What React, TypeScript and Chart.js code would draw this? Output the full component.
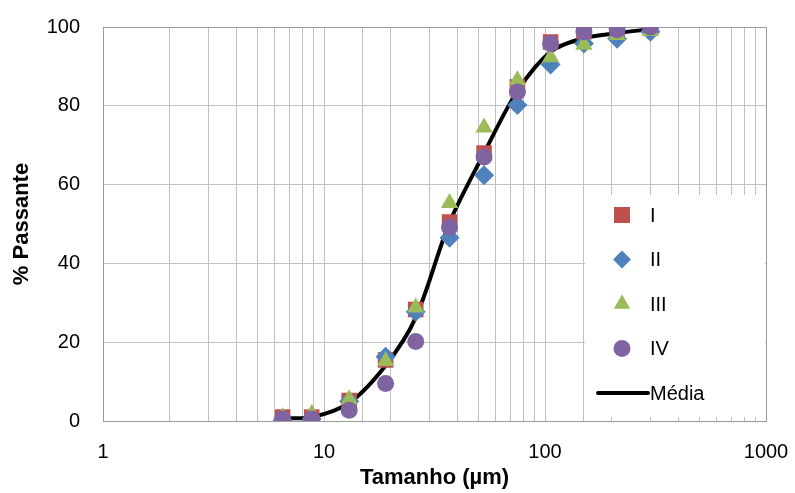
import React, { useEffect, useRef } from "react";
import { Chart, registerables } from "chart.js";

Chart.register(...registerables);

// Particle size (µm)
const sizes = [6.5, 8.8, 13, 19, 26, 37, 53, 75, 106, 150, 212, 300];
// % passing for each sample
const serieI = [1.0, 1.0, 5.2, 15.5, 28.3, 50.5, 68.0, 84.8, 96.2, 98.8, 99.5, 100];
const serieII = [0.2, 0.5, 5.0, 16.3, 27.7, 46.5, 62.4, 80.2, 90.5, 95.8, 97.0, 98.8];
const serieIII = [1.0, 1.8, 5.5, 15.2, 28.8, 55.3, 74.5, 86.5, 92.3, 95.5, 98.0, 99.0];
const serieIV = [0.5, 0.5, 2.7, 9.5, 20.2, 49.2, 67.0, 83.5, 95.8, 98.8, 99.3, 100];
const media = [0.68, 0.95, 4.6, 14.1, 26.25, 50.4, 68.0, 83.75, 93.7, 97.2, 98.45, 99.45];

const seriesLabels = ["I", "II", "III", "IV", "Média"];
const xTickLabels = [1, 10, 100, 1000];
const yMin = 0;
const yMax = 100;
const yStep = 20;

const FONT = "'Liberation Sans', Arial, sans-serif";
const COLORS = ["#C0504D", "#4F81BD", "#9BBB59", "#8064A2", "#000000"];

function pts(ys: number[]) {
  return sizes.map((x, i) => ({ x, y: ys[i] }));
}

function drawMarker(ctx: CanvasRenderingContext2D, style: string, cx: number, cy: number, color: string) {
  ctx.save();
  ctx.fillStyle = color;
  ctx.beginPath();
  if (style === "rect") {
    const s = 8;
    ctx.rect(cx - s, cy - s, 2 * s, 2 * s);
  } else if (style === "rectRot") {
    const r = 9;
    ctx.moveTo(cx, cy - r);
    ctx.lineTo(cx + r, cy);
    ctx.lineTo(cx, cy + r);
    ctx.lineTo(cx - r, cy);
    ctx.closePath();
  } else if (style === "triangle") {
    const r = 9.5;
    ctx.moveTo(cx, cy - r);
    ctx.lineTo(cx + r * 0.866, cy + r * 0.5);
    ctx.lineTo(cx - r * 0.866, cy + r * 0.5);
    ctx.closePath();
  } else {
    ctx.arc(cx, cy, 8.5, 0, Math.PI * 2);
  }
  ctx.fill();
  ctx.restore();
}

const plotBorderPlugin = {
  id: "plotBorder",
  beforeDatasetsDraw(chart: any) {
    const { ctx, chartArea } = chart;
    ctx.save();
    ctx.strokeStyle = "#9a9a9a";
    ctx.lineWidth = 1;
    ctx.strokeRect(
      Math.round(chartArea.left) + 0.5,
      Math.round(chartArea.top) + 0.5,
      Math.round(chartArea.right - chartArea.left),
      Math.round(chartArea.bottom - chartArea.top)
    );
    ctx.restore();
  },
};

const legendBoxPlugin = {
  id: "legendBox",
  afterDatasetsDraw(chart: any) {
    const { ctx, chartArea } = chart;
    const right = chartArea.right - 1;
    const left = chartArea.right - 181;
    const top = chartArea.top + 168;
    const bottom = chartArea.bottom - 4;
    ctx.save();
    ctx.fillStyle = "#ffffff";
    ctx.fillRect(left, top, right - left, bottom - top);
    const styles = ["rect", "rectRot", "triangle", "circle", "line"];
    ctx.font = `20px ${FONT}`;
    ctx.textBaseline = "middle";
    ctx.textAlign = "left";
    chart.data.datasets.forEach((ds: any, i: number) => {
      const cy = top + 20 + i * 44.5;
      const cx = left + 37;
      if (styles[i] === "line") {
        ctx.strokeStyle = "#000";
        ctx.lineWidth = 4;
        ctx.lineCap = "round";
        ctx.beginPath();
        ctx.moveTo(left + 13, cy);
        ctx.lineTo(left + 63, cy);
        ctx.stroke();
      } else {
        drawMarker(ctx, styles[i], cx, cy, COLORS[i]);
      }
      ctx.fillStyle = "#000";
      ctx.fillText(ds.label, left + 65, cy + 1);
    });
    ctx.restore();
  },
};

export default function App() {
  const ref = useRef<HTMLCanvasElement | null>(null);
  useEffect(() => {
    document.body.style.margin = "0";
    if (!ref.current) return;
    const markerStyles = ["rect", "rectRot", "triangle", "circle"];
    const markerRadius = [11, 10, 10, 8.5];
    const series = [serieI, serieII, serieIII, serieIV];
    const datasets: any[] = series.map((s, i) => ({
      type: "scatter",
      label: seriesLabels[i],
      data: pts(s),
      pointStyle: markerStyles[i],
      pointRadius: markerRadius[i],
      pointHoverRadius: markerRadius[i],
      backgroundColor: COLORS[i],
      borderColor: COLORS[i],
      pointBorderWidth: 0,
      showLine: false,
      order: 4 - i,
    }));
    datasets.push({
      type: "line",
      label: seriesLabels[4],
      data: pts(media),
      borderColor: "#000",
      backgroundColor: "#000",
      borderWidth: 4,
      pointRadius: 0,
      tension: 0.3,
      fill: false,
      order: 10,
    });
    const chart = new Chart(ref.current, {
      type: "scatter",
      data: { datasets },
      plugins: [plotBorderPlugin, legendBoxPlugin],
      options: {
        animation: false,
        responsive: true,
        maintainAspectRatio: false,
        layout: { padding: { top: 27, right: 29, bottom: 0, left: 0 } },
        plugins: { legend: { display: false }, tooltip: { enabled: false } },
        scales: {
          x: {
            type: "logarithmic",
            min: 1,
            max: 1000,
            afterFit: (s: any) => {
              s.height = 72;
              s.paddingLeft = 0;
              s.paddingRight = 0;
            },
            grid: { color: "#c0c0c0", lineWidth: 1, drawTicks: false },
            border: { display: true, color: "#8a8a8a", width: 1 },
            ticks: {
              autoSkip: false,
              maxRotation: 0,
              padding: 19,
              color: "#000",
              font: { family: FONT, size: 20 },
              callback: (v: any) => (xTickLabels.includes(Number(v)) ? String(v) : ""),
            },
            title: {
              display: true,
              text: "Tamanho (µm)",
              color: "#000",
              font: { family: FONT, size: 22, weight: "bold" },
              padding: { top: 0, bottom: 2 },
            },
          },
          y: {
            min: yMin,
            max: yMax,
            afterFit: (s: any) => {
              s.width = 103;
              s.paddingTop = 0;
              s.paddingBottom = 0;
            },
            grid: { color: "#c0c0c0", lineWidth: 1, drawTicks: false },
            border: { display: true, color: "#8a8a8a", width: 1 },
            ticks: {
              stepSize: yStep,
              padding: 23,
              color: "#000",
              font: { family: FONT, size: 20 },
            },
            title: {
              display: true,
              text: "% Passante",
              color: "#000",
              font: { family: FONT, size: 22, weight: "bold" },
              padding: { top: 9, bottom: 0 },
            },
          },
        },
      },
    });
    return () => chart.destroy();
  }, []);
  return (
    <div style={{ position: "relative", width: 795, height: 493 }}>
      <canvas ref={ref} />
    </div>
  );
}
